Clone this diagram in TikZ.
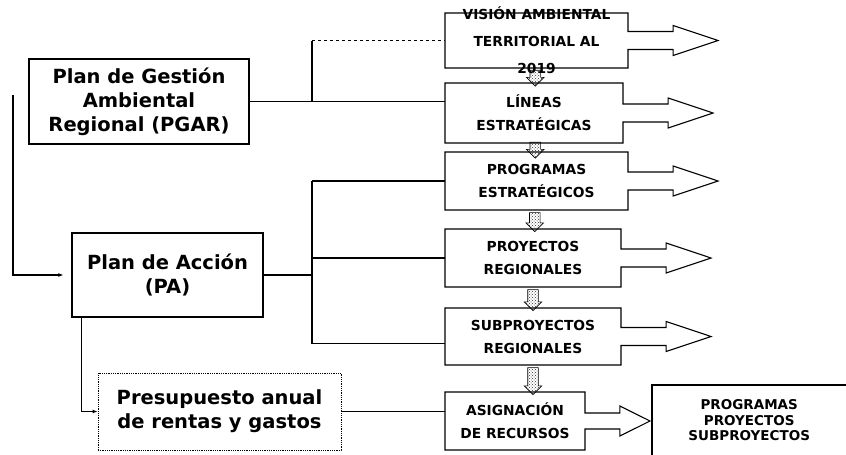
\documentclass[tikz,border=0pt]{standalone}
\usepackage{fontspec}
\setmainfont{DejaVu Sans}
\usetikzlibrary{arrows.meta,positioning,shapes.arrows,patterns}

\begin{document}
\begin{tikzpicture}[x=1pt,y=-1pt,
  plan/.style={draw,line width=1.2pt,align=center,inner sep=0pt,font=\fontsize{19.5}{24}\selectfont\bfseries},
  etapa/.style={arrow box,draw,line width=1.1pt,outer sep=0pt,arrow box arrows={east:90pt},arrow box shaft width=18pt,arrow box head extend=6pt,arrow box tip angle=37,minimum width=178pt,minimum height=58pt,inner sep=0pt,align=center,font=\fontsize{13.8}{23}\selectfont\bfseries},
  bajada/.style={single arrow,shape border rotate=270,draw,line width=0.6pt,pattern=crosshatch dots,pattern color=black!80,minimum height=#1,minimum width=17pt,single arrow head extend=3.5pt,inner sep=5pt},
  linea/.style={line width=1.1pt},
  flecha/.style={linea,-{Latex[length=5pt,width=4pt]}},
]
\useasboundingbox (0,0) rectangle (846,455);
% planes
\node[plan,minimum width=220pt,minimum height=85pt] (pgar) at (139,101.5) {Plan de Gestión\\Ambiental\\Regional (PGAR)};
\node[plan,minimum width=191pt,minimum height=84pt] (pa) at (167.5,275) {Plan de Acción\\(PA)};
\node[plan,line width=0.8pt,densely dotted,minimum width=243pt,minimum height=77pt] (pres) at (219.5,411.5) {Presupuesto anual\\de rentas y gastos};
% etapas
\node[etapa,anchor=north west,minimum width=183pt,minimum height=55pt,inner ysep=-6pt,font=\fontsize{13.8}{27}\selectfont\bfseries] (vis) at (445,13) {VISIÓN AMBIENTAL\\TERRITORIAL AL\\2019};
\node[etapa,below=15pt of vis.south west,anchor=north west,minimum height=60pt] (lin) {LÍNEAS\\ESTRATÉGICAS};
\node[etapa,below=9pt of lin.south west,anchor=north west,minimum width=183pt] (prog) {PROGRAMAS\\ESTRATÉGICOS};
\node[etapa,below=19pt of prog.south west,anchor=north west,minimum width=176pt] (proy) {PROYECTOS\\REGIONALES};
\node[etapa,below=21pt of proy.south west,anchor=north west,minimum width=176pt,minimum height=57pt] (sub) {SUBPROYECTOS\\REGIONALES};
\node[etapa,below=27pt of sub.south west,anchor=north west,minimum width=140pt,arrow box arrows={east:65pt},arrow box shaft width=16pt,arrow box head extend=7pt,arrow box tip angle=53] (asig) {ASIGNACIÓN\\DE RECURSOS};
\node[anchor=north west,minimum width=194pt,minimum height=70pt,inner sep=0pt,align=center,font=\fontsize{13.5}{15.5}\selectfont\bfseries] (fin) at (652,385) {PROGRAMAS\\PROYECTOS\\SUBPROYECTOS};
\draw[linea] (fin.south west) -- (fin.north west) -- (fin.north east);
% flechas entre etapas
\path (vis.south) -- node[bajada=15pt]{} (lin.north);
\path (lin.south) -- node[bajada=9pt]{} (prog.north);
\path (prog.south) -- node[bajada=19pt]{} (proy.north);
\path (proy.south) -- node[bajada=21pt]{} (sub.north);
\path (sub.south) -- node[bajada=27pt]{} (sub.south |- asig.north);
% conexiones
\coordinate (eje) at (312,0);
\coordinate (ini) at (13,95);
\draw[linea] (pgar.east) -- (pgar.east -| lin.west);
\draw[linea] (pgar.east -| eje) -- (vis.west -| eje);
\draw[linea,dashed] (vis.west -| eje) -- (vis.west);
\draw[linea] (pa.east) -- (pa.east -| eje);
\draw[linea] (prog.west -| eje) -- ([yshift=-7pt]sub.west -| eje);
\draw[linea] (prog.west -| eje) -- (prog.west);
\draw[linea] (proy.west -| eje) -- (proy.west);
\draw[linea] ([yshift=-7pt]sub.west -| eje) -- ([yshift=-7pt]sub.west);
\draw[linea] (pres.east) -- (asig.west |- pres.east);
\draw[flecha,shorten >=8pt] (ini) |- (pa.west);
\draw[flecha] ([xshift=10pt]pa.south west) |- (pres.west);
\end{tikzpicture}
\end{document}
